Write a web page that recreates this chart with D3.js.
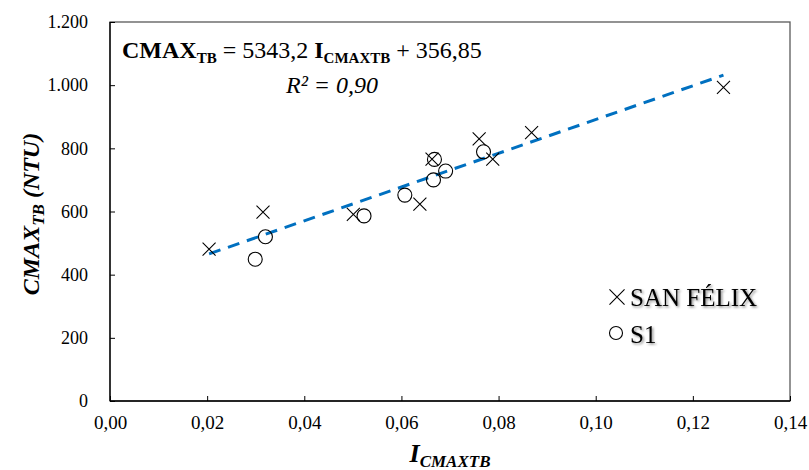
<!DOCTYPE html>
<html><body style="margin:0">
<script src="https://d3js.org/d3.v7.min.js"></script>
<script>

  // data
  var sanFelixX = [0.0204, 0.0315, 0.0501, 0.0638, 0.0663, 0.0760, 0.0788, 0.0868, 0.1263];
  var sanFelixY = [481, 598, 591, 623, 766, 830, 766, 850, 993];
  var s1X = [0.0299, 0.0320, 0.0523, 0.0607, 0.0666, 0.0668, 0.0691, 0.0769];
  var s1Y = [449, 520, 586, 652, 700, 765, 728, 789];

  var slope = 5343.2, intercept = 356.85;
  var xTicks = [0, 0.02, 0.04, 0.06, 0.08, 0.10, 0.12, 0.14];
  var yTicks = [0, 200, 400, 600, 800, 1000, 1200];
  var seriesNames = ["SAN FÉLIX", "S1"];

  var width = 809, height = 470;
  var plot = { left: 110, right: 790, top: 22, bottom: 401 };
  var serif = "'Liberation Serif'";

  var locale = d3.formatLocale({ decimal: ",", thousands: ".", grouping: [3], currency: ["", ""] });

  var x = d3.scaleLinear().domain([0, 0.14]).range([plot.left, plot.right]);
  var y = d3.scaleLinear().domain([0, 1200]).range([plot.bottom, plot.top]);

  var svg = d3.select("body").append("svg")
      .attr("width", width)
      .attr("height", height);

  svg.append("rect").attr("width", width).attr("height", height).attr("fill", "#fff");

  var defs = svg.append("defs");
  defs.append("filter").attr("id", "shadow")
      .attr("x", "-10%").attr("y", "-20%").attr("width", "130%").attr("height", "160%")
    .append("feDropShadow")
      .attr("dx", 1.5).attr("dy", 1.5).attr("stdDeviation", 1)
      .attr("flood-color", "#000").attr("flood-opacity", 0.45);

  // plot frame
  svg.append("rect")
      .attr("x", plot.left).attr("y", plot.top)
      .attr("width", plot.right - plot.left).attr("height", plot.bottom - plot.top)
      .attr("fill", "none").attr("stroke", "#595959").attr("stroke-width", 1.3);

  var xAxis = d3.axisBottom(x).tickValues(xTicks).tickSize(-5).tickPadding(15)
      .tickFormat(locale.format(".2f"));
  var yAxis = d3.axisLeft(y).tickValues(yTicks).tickSize(-5).tickPadding(22)
      .tickFormat(locale.format(",d"));

  var gx = svg.append("g")
      .attr("transform", "translate(0," + plot.bottom + ")")
      .call(xAxis);
  var gy = svg.append("g")
      .attr("transform", "translate(" + plot.left + ",0)")
      .call(yAxis);
  [gx, gy].forEach(function(g) {
    g.select(".domain").remove();
    g.selectAll(".tick line").attr("stroke", "#000");
  });
  gx.selectAll(".tick text").style("font-size", "19px");
  gy.selectAll(".tick text").style("font-size", "18px");

  svg.append("line")
      .attr("x1", plot.left).attr("x2", plot.right)
      .attr("y1", plot.bottom).attr("y2", plot.bottom)
      .attr("stroke", "#000").attr("stroke-width", 1.3);
  svg.append("line")
      .attr("x1", plot.left).attr("x2", plot.left)
      .attr("y1", plot.top).attr("y2", plot.bottom)
      .attr("stroke", "#000").attr("stroke-width", 1.3);

  // trend line over the span of all points
  var allX = sanFelixX.concat(s1X);
  var x0 = d3.min(allX), x1 = d3.max(allX);
  svg.append("line")
      .attr("x1", x(x0)).attr("y1", y(slope * x0 + intercept))
      .attr("x2", x(x1)).attr("y2", y(slope * x1 + intercept))
      .attr("stroke", "#0070C0").attr("stroke-width", 3)
      .attr("stroke-dasharray", "12,8");

  var crossPath = d3.symbol().type(d3.symbolX).size(112);

  svg.append("g").selectAll("path")
      .data(d3.range(sanFelixX.length))
      .enter().append("path")
      .attr("d", crossPath)
      .attr("transform", function(i) { return "translate(" + x(sanFelixX[i]) + "," + y(sanFelixY[i]) + ")"; })
      .attr("fill", "none").attr("stroke", "#000").attr("stroke-width", 1.1);

  svg.append("g").selectAll("circle")
      .data(d3.range(s1X.length))
      .enter().append("circle")
      .attr("cx", function(i) { return x(s1X[i]); })
      .attr("cy", function(i) { return y(s1Y[i]); })
      .attr("r", 7)
      .attr("fill", "none").attr("stroke", "#000").attr("stroke-width", 1.1);

  // equation
  var eq = svg.append("text").attr("x", 122).attr("y", 58).style("font-size", "24px");
  eq.append("tspan").style("font-weight", "bold").text("CMAX");
  eq.append("tspan").style("font-weight", "bold").style("font-size", "15px").attr("dy", 5).text("TB");
  eq.append("tspan").attr("dy", -5).text(" = 5343,2 ");
  eq.append("tspan").style("font-weight", "bold").text("I");
  eq.append("tspan").style("font-weight", "bold").style("font-size", "15px").attr("dy", 5).text("CMAXTB");
  eq.append("tspan").attr("dy", -5).text(" + 356,85");

  svg.append("text").attr("x", 286).attr("y", 93)
      .style("font-size", "24px").style("font-style", "italic")
      .text("R² = 0,90");

  // axis titles
  var yt = svg.append("text")
      .attr("transform", "translate(39,214) rotate(-90)")
      .attr("text-anchor", "middle")
      .style("font-size", "24px").style("font-weight", "bold").style("font-style", "italic");
  yt.append("tspan").text("CMAX");
  yt.append("tspan").style("font-size", "17px").attr("dy", 5).text("TB");
  yt.append("tspan").attr("dy", -5).text(" (NTU)");

  var xt = svg.append("text")
      .attr("x", 450).attr("y", 462)
      .attr("text-anchor", "middle")
      .style("font-size", "26px").style("font-weight", "bold").style("font-style", "italic");
  xt.append("tspan").text("I");
  xt.append("tspan").style("font-size", "17px").attr("dy", 5).text("CMAXTB");

  // legend
  var legend = svg.append("g");
  legend.append("path").attr("d", d3.symbol().type(d3.symbolX).size(150))
      .attr("transform", "translate(617,297)")
      .attr("fill", "none").attr("stroke", "#000").attr("stroke-width", 1.1);
  legend.append("circle").attr("cx", 616).attr("cy", 333).attr("r", 6.5)
      .attr("fill", "none").attr("stroke", "#000").attr("stroke-width", 1.1);
  legend.selectAll("text")
      .data(seriesNames)
      .enter().append("text")
      .attr("x", 630)
      .attr("y", function(d, i) { return 306 + i * 37; })
      .style("font-size", "25px")
      .attr("filter", "url(#shadow)")
      .text(function(d) { return d; });

  // serif face on every text element directly
  svg.selectAll("text").style("font-family", serif).style("fill", "#000");

</script>
</body></html>
